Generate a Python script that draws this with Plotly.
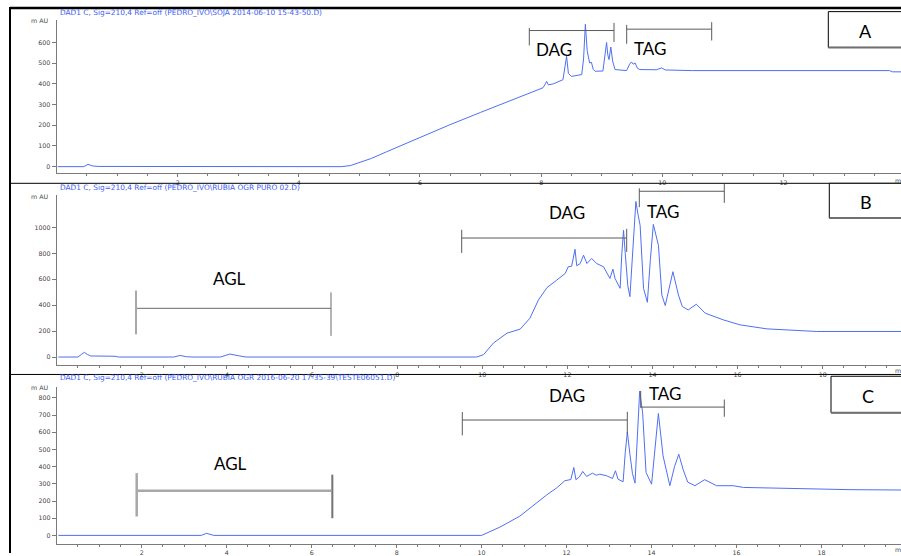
import plotly.graph_objects as go

# ---------------- data (retention time in min, signal in mAU) ----------------
time_a = [0.02, 0.45, 0.52, 0.6, 0.7, 0.9, 0.92, 0.95, 4.7, 4.85, 4.95, 5.2, 5.45, 5.67, 6.0, 6.49,
          7.0, 7.5, 8.03, 8.07, 8.09, 8.12, 8.2, 8.36, 8.39, 8.42, 8.45, 8.5, 8.67, 8.7, 8.73, 8.76,
          8.8, 8.83, 8.86, 8.89, 9.02, 9.05, 9.08, 9.1, 9.12, 9.15, 9.18, 9.22, 9.41, 9.46, 9.49,
          9.52, 9.55, 9.59, 9.63, 9.9, 9.99, 10.05, 10.5, 13.75, 13.8, 13.94]
mau_a = [0, 0, 11, 3, 1, 1, 2, 0, 0, 5, 15, 40, 72, 100, 143, 202,
         262, 320, 381, 400, 412, 395, 400, 420, 470, 533, 450, 436, 445, 520, 688, 560,
         501, 504, 470, 461, 462, 520, 600, 540, 517, 578, 510, 469, 464, 495, 506,
         495, 501, 475, 469, 468, 477, 467, 464, 464, 458, 458]

time_b = [0.04, 0.5, 0.58, 0.65, 0.72, 0.8, 1.37, 1.45, 2.75, 2.9, 3.05, 3.2, 3.85, 4.07, 4.3, 4.45,
          9.87, 10.03, 10.26, 10.58, 10.89, 11.12, 11.32, 11.52, 11.75, 11.95, 12.02, 12.1, 12.18,
          12.22, 12.3, 12.38, 12.46, 12.57, 12.69, 12.85, 13.0, 13.07, 13.12, 13.24, 13.28, 13.32,
          13.36, 13.42, 13.47, 13.55, 13.61, 13.66, 13.71, 13.79, 13.88, 13.95, 14.02, 14.14, 14.22,
          14.3, 14.4, 14.48, 14.61, 14.7, 14.84, 15.03, 15.24, 15.67, 16.06, 16.69, 17.86, 19.84]
mau_b = [0, 0, 20, 36, 20, 8, 6, 0, 0, 12, 2, 0, 0, 23, 8, 0,
         0, 18, 107, 184, 215, 299, 440, 535, 593, 645, 696, 700, 831,
         704, 720, 785, 721, 760, 721, 696, 606, 678, 606, 530, 800, 977,
         800, 550, 466, 900, 1200, 1100, 1015, 530, 422, 750, 1023, 862, 478,
         397, 550, 658, 478, 390, 363, 407, 338, 286, 248, 217, 197, 197]

time_c = [0.04, 0.55, 0.59, 0.63, 1.15, 1.21, 1.3, 3.4, 3.53, 3.62, 3.7, 10.0, 10.43, 10.9, 11.21,
          11.53, 11.76, 11.96, 12.1, 12.17, 12.22, 12.3, 12.38, 12.47, 12.61, 12.7, 12.78, 12.94,
          13.08, 13.15, 13.21, 13.33, 13.38, 13.43, 13.49, 13.55, 13.61, 13.67, 13.72, 13.79, 13.87,
          14.0, 14.08, 14.16, 14.27, 14.43, 14.54, 14.64, 14.74, 14.85, 15.02, 15.25, 15.53, 15.92,
          16.16, 17.1, 18.67, 19.87]
mau_c = [0, 0, 3, 0, 0, 4, 0, 0, 12, 5, 0, 0, 48, 112, 173,
         235, 275, 318, 325, 395, 324, 340, 372, 343, 362, 350, 356, 347,
         331, 376, 327, 312, 480, 601, 472, 360, 304, 600, 839, 713, 366,
         298, 500, 709, 463, 289, 400, 472, 385, 310, 289, 324, 289, 289,
         279, 274, 266, 264]

panel_letters = ["A", "B", "C"]
panel_titles = [
    r"DAD1 C, Sig=210,4 Ref=off (PEDRO_IVO\SOJA 2014-06-10 15-43-50.D)",
    r"DAD1 C, Sig=210,4 Ref=off (PEDRO_IVO\RUBIA OGR PURO 02.D)",
    r"DAD1 C, Sig=210,4 Ref=off (PEDRO_IVO\RUBIA OGR 2016-06-20 17-35-39\TESTE06051.D)",
]
yticks_a = [0, 100, 200, 300, 400, 500, 600]
yticks_b = [0, 200, 400, 600, 800, 1000]
yticks_c = [0, 100, 200, 300, 400, 500, 600, 700, 800]
xticks_a = [2, 4, 6, 8, 10, 12]
xticks_bc = [2, 4, 6, 8, 10, 12, 14, 16, 18]

# ---------------- layout helpers ----------------
W, H = 901, 556
def px(x):
    return x / W
def py(y):
    return 1 - y / H

LINE = "#4f6ff2"
AX = "#7a7a7a"
TICKFONT = dict(family="DejaVu Sans", size=6.3, color="#444")

fig = go.Figure()
fig.add_trace(go.Scatter(x=time_a, y=mau_a, mode="lines", line=dict(color=LINE, width=1),
                         xaxis="x", yaxis="y", hoverinfo="skip"))
fig.add_trace(go.Scatter(x=time_b, y=mau_b, mode="lines", line=dict(color=LINE, width=1),
                         xaxis="x2", yaxis="y2", hoverinfo="skip"))
fig.add_trace(go.Scatter(x=time_c, y=mau_c, mode="lines", line=dict(color=LINE, width=1),
                         xaxis="x3", yaxis="y3", hoverinfo="skip"))

def xax(domain, rng, ticks, anchor):
    minor_vals = [i * 0.5 for i in range(1, int(rng[1] * 2) + 1) if (i * 0.5) not in ticks]
    return dict(domain=domain, range=rng, anchor=anchor, tickmode="array", tickvals=ticks,
                ticktext=[str(t) for t in ticks], showline=True, linecolor=AX, linewidth=1,
                ticks="outside", ticklen=3, tickcolor=AX, tickfont=TICKFONT, showgrid=False,
                zeroline=False, fixedrange=True,
                minor=dict(tickmode="array", tickvals=minor_vals, ticks="outside", ticklen=2,
                           tickcolor=AX))

def yax(domain, rng, ticks, anchor):
    return dict(domain=domain, range=rng, anchor=anchor, tickmode="array", tickvals=ticks,
                ticktext=[str(t) for t in ticks], showline=True, linecolor=AX, linewidth=1,
                ticks="outside", ticklen=4, tickcolor=AX, tickfont=TICKFONT, showgrid=False,
                zeroline=False, fixedrange=True)

fig.update_layout(
    width=W, height=H, margin=dict(l=0, r=0, t=0, b=0),
    paper_bgcolor="white", plot_bgcolor="white", showlegend=False,
    xaxis=xax([px(56.5), 1], [0, 13.94], xticks_a, "y"),
    yaxis=yax([py(174), py(20)], [-31, 709], yticks_a, "x"),
    xaxis2=xax([px(56.7), 1], [0, 19.84], xticks_bc, "y2"),
    yaxis2=yax([py(367.3), py(196)], [-64, 1250], yticks_b, "x2"),
    xaxis3=xax([px(56.7), 1], [0, 19.87], xticks_bc, "y3"),
    yaxis3=yax([py(546.7), py(389.3)], [-48.6, 862], yticks_c, "x3"),
)

shapes = []
annotations = []

def seg(x0, y0, x1, y1, color="#5a5a5a", width=1):
    shapes.append(dict(type="line", xref="paper", yref="paper", x0=px(x0), y0=py(y0),
                       x1=px(x1), y1=py(y1), line=dict(color=color, width=width), layer="above"))

def bracket(xl, yl0, yl1, yh, xr, yr0, yr1, color="#5a5a5a", width=1):
    seg(xl, yl0, xl, yl1, color, width)
    seg(xl, yh, xr, yh, color, width)
    seg(xr, yr0, xr, yr1, color, width)

def label(text, x, y, size=17):
    annotations.append(dict(text=text, x=px(x), y=py(y), xref="paper", yref="paper",
                            showarrow=False, xanchor="center", yanchor="middle",
                            font=dict(family="Lato", size=size, color="black")))

def small(text, x, y, color="#444", size=6.3, anchor="center"):
    annotations.append(dict(text=text, x=px(x), y=py(y), xref="paper", yref="paper",
                            showarrow=False, xanchor=anchor, yanchor="middle",
                            font=dict(family="DejaVu Sans", size=size, color=color)))

def box(x0, y0, y1, letter, lx, ly):
    shapes.append(dict(type="rect", xref="paper", yref="paper", x0=px(x0), x1=px(910),
                       y0=py(y1), y1=py(y0), line=dict(color="black", width=1),
                       fillcolor="white", layer="above"))
    seg(x0, y1, 905, y1, "#707070", 2)
    label(letter, lx, ly, 18)

# frame lines of the composite picture
seg(10, 8, 901, 8, "black", 2.5)
seg(10, 7, 10, 556, "black", 2)
seg(10, 184.3, 901, 184.3, "black", 1)
seg(10, 376.5, 901, 376.5, "black", 1)

# panel A
bracket(529.3, 28, 45.7, 30.7, 614, 23, 42.3)
bracket(626.7, 25, 44, 29.3, 711.7, 22.3, 40.7)
label("DAG", 554, 50)
label("TAG", 650, 49)
box(828.3, 11.7, 47.7, panel_letters[0], 865, 31)

# panel B
bracket(136, 292.3, 336, 310, 331, 294, 337.7, "#6a6a6a", 1)
seg(136, 292.3, 136, 336, "#a8a8a8", 2)
bracket(461.7, 231, 254.3, 239.3, 626.7, 230, 253.3)
bracket(639.3, 189.3, 208.3, 192.3, 724.3, 185, 204)
label("AGL", 229.3, 280)
label("DAG", 567.3, 213.3)
label("TAG", 662.7, 212.3)
box(829.3, 184.3, 219.3, panel_letters[1], 866, 202.7)

# panel C
bracket(136.7, 475.7, 519.3, 493.3, 332.3, 477.3, 521, "#a8a8a8", 2.5)
seg(332.3, 477.3, 332.3, 521, "#6a6a6a", 1)
bracket(462.3, 414.3, 437.7, 422.3, 627.3, 414, 436.7)
bracket(640.7, 393, 410, 409.3, 724.3, 401.7, 419)
label("AGL", 230, 465.7)
label("DAG", 567.3, 397.3)
label("TAG", 665, 395.7)
box(831, 378.3, 415, panel_letters[2], 868.3, 397.7)

# chart titles, units
title_y = [12.5, 188.5, 379.5]
mau_y = [21, 198, 389.5]
min_y = [181.5, 373, 552]
for i in range(3):
    small(panel_titles[i], 58, title_y[i], color="#3d5ef2", size=7.4, anchor="left")
    small("m AU", 39.5, mau_y[i])
    small("min", 893, min_y[i], anchor="left")

fig.update_layout(shapes=shapes, annotations=annotations)
fig.write_html("out.html", config={"displayModeBar": False},
               post_script="document.body.style.margin='0px';document.body.style.padding='0px';")
